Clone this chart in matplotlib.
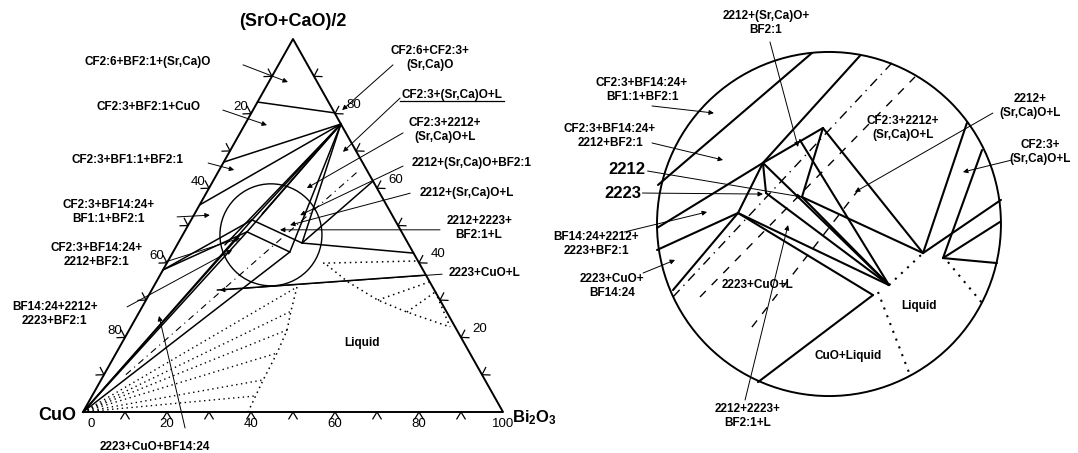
import numpy as np
import matplotlib.pyplot as plt
from matplotlib.patches import Ellipse, Circle

plt.rcParams['font.family'] = ['Liberation Sans', 'DejaVu Sans']
plt.rcParams['font.weight'] = 'bold'
plt.rcParams['mathtext.fontset'] = 'custom'
plt.rcParams['mathtext.rm'] = 'Liberation Sans:bold'
plt.rcParams['mathtext.default'] = 'rm'

# ---- left: ternary section, compositions as (Bi2O3 %, (SrO+CaO)/2 %); CuO = rest
F = (22.8, 77.2)      # fan point on Bi2O3-(SrO+CaO)/2 side
T2223 = (14.9, 48.3)
T2223b = (14.5, 51.5)
T2223c = (16.1, 53.1)
P2212 = (27.8, 42.9)
P2212b = (29.5, 45.3)
CUO = (0.0, 0.0)

tie_lines = [
    [(0.0, 83.1), (19.8, 80.2)],
    [F, (0.0, 67.0)],
    [F, (0.0, 55.5)],
    [F, (11.4, 44.8)],
    [F, T2223], [F, T2223b], [F, T2223c], [F, P2212], [F, P2212b],
    [(0.0, 38.1), T2223], [(0.0, 38.1), T2223b],
    [CUO, T2223], [CUO, T2223b], [CUO, (13.6, 47.2)], [CUO, P2212],
    [T2223, P2212], [T2223b, P2212b],
    [P2212b, (57.4, 42.6)], [(38.1, 61.9), P2212b],
    [(15.6, 32.7), (63.3, 36.7)],
]
liq_front = [(34.2, 33.5), (36.0, 27.0), (37.6, 22.0), (38.3, 15.8), (38.6, 8.6), (39.3, 0.0)]
liq_fan = [(34.2, 33.5), (36.0, 27.0), (37.6, 22.0), (38.3, 15.8), (38.6, 8.6), (38.9, 4.3)]
liq_front2 = [(38.4, 39.4), (45.6, 34.9), (55.2, 30.0), (63.7, 26.8), (76.0, 22.8)]
dotted_extra = [
    [(37.2, 39.9), (59.5, 40.5)],
    [(55.2, 30.0), (65.1, 34.9)],
    [(63.7, 26.8), (67.8, 32.2)],
    [(67.8, 32.2), (76.0, 22.8)],
]
dashdot_line = [(5.2, 10.0), (33.1, 64.3)]
zoom_centre = (21.0, 47.5)

tick_vals = [10, 20, 30, 40, 50, 60, 70, 80, 90]
axis_labels = [0, 20, 40, 60, 80, 100]
side_labels = [20, 40, 60, 80]

# label text, label position (x, y in triangle plane), arrow start, arrow end
tri_labels = [
    ('CF2:6+BF2:1+(Sr,Ca)O', (15.5, 81.3), (38.1, 80.6), (48.8, 76.6)),
    ('CF2:3+BF2:1+CuO', (15.5, 70.8), (33.3, 70.1), (43.8, 66.6)),
    ('CF2:3+BF1:1+BF2:1', (10.7, 58.5), (29.8, 57.8), (36.0, 56.2)),
    ('CF2:3+BF14:24+\nBF1:1+BF2:1', (6.0, 46.4), (22.4, 45.3), (30.2, 45.7)),
    ('CF2:3+BF14:24+\n2212+BF2:1', (3.3, 36.5), (19.5, 34.8), (37.4, 40.4)),
    ('BF14:24+2212+\n2223+BF2:1', (-6.7, 22.8), (10.5, 24.4), (35.5, 37.6)),
    ('2223+CuO+BF14:24', (17.1, -8.1), (24.3, -3.7), (18.1, 22.3)),
    ('CF2:6+CF2:3+\n(Sr,Ca)O', (82.6, 82.2), (73.8, 80.6), (61.7, 70.1)),
    ('CF2:3+(Sr,Ca)O+L', (87.9, 73.6), (75.5, 72.9), (61.9, 60.4)),
    ('CF2:3+2212+\n(Sr,Ca)O+L', (86.2, 65.5), (76.2, 64.8), (53.3, 52.0)),
    ('2212+(Sr,Ca)O+BF2:1', (92.6, 57.8), (76.2, 57.1), (51.7, 45.7)),
    ('2212+(Sr,Ca)O+L', (91.4, 50.8), (77.9, 50.8), (49.3, 43.4)),
    ('2212+2223+\nBF2:1+L', (94.3, 42.7), (85.0, 42.3), (46.9, 42.3)),
    ('2223+CuO+L', (95.7, 32.3), (85.5, 32.0), (32.6, 28.3)),
]

# ---- right: enlarged circle, coordinates in % of circle radius
A = (-38.4, 35.5)
B = (-52.9, 6.4)
C = (-36.6, 18.0)
D = (-15.7, 15.7)
V = (-3.5, 55.8)
E = (34.9, -35.5)
G = (54.7, -16.9)
H = (66.3, -19.8)
K = (25.6, -41.3)

inset_solid = [
    [(-99.4, 22.7), (-9.9, 99.4)],
    [(-100.0, -2.3), A], [A, (18.3, 98.1)], [A, V],
    [V, G], [V, D], [A, C], [A, B],
    [B, (-100.0, -15.1)], [B, (-90.7, -38.4)],
    [A, E], [B, E], [B, K], [C, E], [D, E], [D, G],
    [(-16.9, 48.8), E],
    [K, (-41.3, -91.9)],
    [H, (99.4, 1.2)], [H, (97.7, -22.7)],
    [G, (80.2, 58.7)], [G, (100.0, 14.0)], [H, (89.0, 43.0)],
]
inset_dotted = [
    [E, G],
    [(28.5, -39.5), (47.1, -87.8)],
    [(69.2, -22.1), (89.0, -45.9)],
]
inset_dashdot = [[(-90.7, -42.4), (36.6, 93.6)]]
inset_dashed = [[(-75.0, -42.4), (50.0, 85.5)], [(-44.8, -59.9), (18.0, 21.0)]]

inset_labels = [
    ('2212+(Sr,Ca)O+\nBF2:1', (-36.6, 116.9), (-34.3, 105.8), (-18.0, 44.8)),
    ('CF2:3+BF14:24+\nBF1:1+BF2:1', (-108.7, 77.9), (-102.9, 68.6), (-66.9, 64.5)),
    ('CF2:3+BF14:24+\n2212+BF2:1', (-127.3, 51.2), (-102.9, 47.1), (-61.6, 37.2)),
    ('BF14:24+2212+\n2223+BF2:1', (-135.5, -11.6), (-119.2, -4.7), (-70.9, 7.0)),
    ('2223+CuO+\nBF14:24', (-126.2, -36.0), (-108.1, -28.5), (-89.5, -20.9)),
    ('2212+2223+\nBF2:1+L', (-47.1, -111.6), (-48.8, -102.3), (-23.8, -0.6)),
    ('2212+\n(Sr,Ca)O+L', (116.9, 68.6), (95.3, 64.5), (15.1, 18.6)),
    ('CF2:3+\n(Sr,Ca)O+L', (122.7, 41.9), (106.4, 37.2), (77.9, 30.2)),
]
inset_plain = [
    ('CF2:3+2212+\n(Sr,Ca)O+L', (43.0, 55.8)),
    ('2223+CuO+L', (-41.3, -35.5)),
    ('Liquid', (52.3, -47.7)),
    ('CuO+Liquid', (11.0, -76.7)),
]
inset_points = [('2212', (-117.4, 31.4), (-105.5, 30.8), D),
                ('2223', (-119.8, 18.0), (-108.5, 18.0), (-38.4, 17.4))]

LABEL_SIZE = 8.5


def tern(p):
    bi, s = p
    return bi + s / 2.0, s * np.sqrt(3) / 2.0


def draw_seg(ax, seg, conv=None, **kw):
    pts = [conv(p) if conv else p for p in seg]
    xs, ys = zip(*pts)
    ax.plot(xs, ys, color='black', solid_capstyle='round', **kw)


def arrow(ax, a0, a1):
    ax.annotate('', xy=a1, xytext=a0,
                arrowprops=dict(arrowstyle='-|>', lw=0.7, color='black', mutation_scale=7,
                                shrinkA=0, shrinkB=0))


fig = plt.figure(figsize=(10.78, 4.53), dpi=100)

# ============ ternary ============
ax = fig.add_axes([0, 0, 560 / 1078, 1])
ax.set_xlim(-19.76, 113.57)
ax.set_ylim(-9.52, 95.66)
ax.axis('off')

corners = [tern((0, 0)), tern((100, 0)), tern((0, 100)), tern((0, 0))]
cx, cy = zip(*corners)
ax.plot(cx, cy, color='black', lw=1.4)

# chevron ticks
edges = [
    (lambda k: tern((k, 0)), np.array([1.0, 0.0]), np.array([0.0, -1.0])),
    (lambda k: tern((0, 100 - k)), np.array([0.5, 0.866]), np.array([-0.866, 0.5])),
    (lambda k: tern((100 - k, k)), np.array([-0.5, 0.866]), np.array([0.866, 0.5])),
]
for pos, t, n in edges:
    for k in tick_vals:
        p = np.array(pos(k))
        a1 = p + n * 1.6 + t * 1.0
        a2 = p + n * 1.6 - t * 1.0
        ax.plot([a1[0], p[0], a2[0]], [a1[1], p[1], a2[1]], color='black', lw=0.9)

for k in axis_labels:
    x, y = tern((k, 0))
    ax.text(x + (2.0 if k == 0 else 0), -2.8, str(k), ha='center', va='center',
            fontsize=9.5, fontweight='normal')
for k in side_labels:
    x, y = tern((0, 100 - k))
    ax.text(x - 2.5, y + 1.5, str(k), ha='center', va='center', fontsize=9.5, fontweight='normal')
    x, y = tern((100 - k, k))
    ax.text(x + 4.5, y + 2.0, str(k), ha='center', va='center', fontsize=9.5, fontweight='normal')

ax.text(50, 90.6, '(SrO+CaO)/2', ha='center', va='center', fontsize=13)
ax.text(-6.2, -0.7, 'CuO', ha='center', va='center', fontsize=13)
ax.text(107.4, -1.4, 'Bi$_2$O$_3$', ha='center', va='center', fontsize=12)

for seg in tie_lines:
    draw_seg(ax, seg, tern, lw=1.1)
draw_seg(ax, liq_front, tern, lw=1.1, ls=(0, (1, 2.5)))
for p in liq_fan:
    draw_seg(ax, [CUO, p], tern, lw=1.0, ls=(0, (1, 2.5)))
draw_seg(ax, liq_front2, tern, lw=1.1, ls=(0, (1, 2.5)))
for seg in dotted_extra:
    draw_seg(ax, seg, tern, lw=1.1, ls=(0, (1, 2.5)))
draw_seg(ax, dashdot_line, tern, lw=0.8, ls=(0, (6, 4, 1, 4)))

zx, zy = tern(zoom_centre)
ax.add_patch(Ellipse((zx, zy), 2 * 51 / 4.2, 2 * 51 / 4.307, fill=False, lw=1.0, color='black'))

for text, lp, a0, a1 in tri_labels:
    ax.text(lp[0], lp[1], text, ha='center', va='center', fontsize=LABEL_SIZE, linespacing=1.25)
    arrow(ax, a0, a1)
# underline of the CF2:3+(Sr,Ca)O+L label
ax.plot([75.5, 100.3], [72.3, 72.3], color='black', lw=0.9)
ax.text(66.4, 16.0, 'Liquid', ha='center', va='center', fontsize=LABEL_SIZE)

# ============ enlarged circle ============
bx = fig.add_axes([560 / 1078, 0, 518 / 1078, 1])
bx.set_xlim(-156.4, 144.8)
bx.set_ylim(-133.1, 130.2)
bx.axis('off')
bx.add_patch(Circle((0, 0), 100, fill=False, lw=1.4, color='black'))

for seg in inset_solid:
    draw_seg(bx, seg, lw=1.5)
for seg in inset_dotted:
    draw_seg(bx, seg, lw=1.5, ls=(0, (1, 3)))
for seg in inset_dashdot:
    draw_seg(bx, seg, lw=1.0, ls=(0, (7, 4, 1, 4)))
for seg in inset_dashed:
    draw_seg(bx, seg, lw=1.0, ls=(0, (6, 6)))

for text, lp, a0, a1 in inset_labels:
    bx.text(lp[0], lp[1], text, ha='center', va='center', fontsize=LABEL_SIZE, linespacing=1.25)
    arrow(bx, a0, a1)
for text, lp in inset_plain:
    bx.text(lp[0], lp[1], text, ha='center', va='center', fontsize=LABEL_SIZE, linespacing=1.25)
for text, lp, a0, a1 in inset_points:
    bx.text(lp[0], lp[1], text, ha='center', va='center', fontsize=12)
    arrow(bx, a0, a1)

fig.savefig('out.png', dpi=100)
